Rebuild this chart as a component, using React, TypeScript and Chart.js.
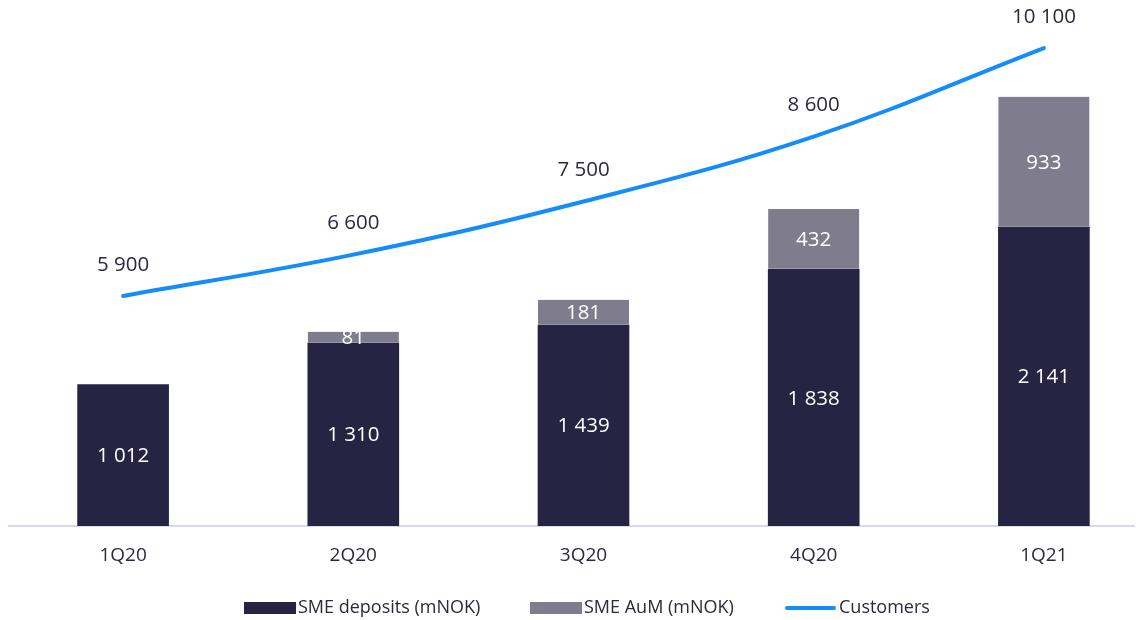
import React, { useEffect, useRef } from "react";
import { Chart, registerables } from "chart.js";

Chart.register(...registerables);

const categories = ["1Q20", "2Q20", "3Q20", "4Q20", "1Q21"];
const smeDeposits = [1012, 1310, 1439, 1838, 2141];
const smeAum = [null, 81, 181, 432, 933];
const customers = [5900, 6600, 7500, 8600, 10100];

const NAVY = "#262442";
const GREY = "#7f7c8e";
const BLUE = "#148cfa";
const TEXT = "#2a2940";
const FONT = "'Open Sans', 'Noto Sans', sans-serif";

const fmt = (v: number) => String(v).replace(/\B(?=(\d{3})+(?!\d))/g, " ");

const labelsPlugin = {
  id: "valueLabels",
  afterDatasetsDraw(chart: any) {
    const ctx = chart.ctx;
    ctx.save();
    ctx.textAlign = "center";
    ctx.textBaseline = "middle";
    chart.data.datasets.forEach((ds: any, di: number) => {
      const meta = chart.getDatasetMeta(di);
      meta.data.forEach((el: any, i: number) => {
        const v = ds.data[i];
        if (!v) return;
        if (ds.type === "line") {
          ctx.fillStyle = TEXT;
          ctx.font = `20.5px ${FONT}`;
          ctx.fillText(fmt(v), el.x, el.y - 31);
        } else {
          ctx.fillStyle = "#ffffff";
          ctx.font = `20.5px ${FONT}`;
          const cy = (el.y + el.base) / 2;
          ctx.fillText(fmt(v), el.x, cy + 1);
        }
      });
    });
    ctx.restore();
  },
};

const legendPlugin = {
  id: "customLegend",
  afterDraw(chart: any) {
    const ctx = chart.ctx;
    ctx.save();
    ctx.font = `18px ${FONT}`;
    ctx.textBaseline = "middle";
    ctx.textAlign = "left";
    const y = 600;
    const items = [
      { x: 236, label: chart.data.datasets[0].label, color: NAVY, kind: "box" },
      { x: 522, label: chart.data.datasets[1].label, color: GREY, kind: "box" },
      { x: 777, label: chart.data.datasets[2].label, color: BLUE, kind: "line" },
    ];
    items.forEach((it) => {
      if (it.kind === "box") {
        ctx.fillStyle = it.color;
        ctx.fillRect(it.x, y - 6, 52, 12);
      } else {
        ctx.strokeStyle = it.color;
        ctx.lineWidth = 4;
        ctx.lineCap = "round";
        ctx.beginPath();
        ctx.moveTo(it.x + 2, y);
        ctx.lineTo(it.x + 49, y);
        ctx.stroke();
      }
      ctx.fillStyle = TEXT;
      ctx.fillText(it.label, it.x + 54, y);
    });
    ctx.restore();
  },
};

export default function App() {
  const ref = useRef<HTMLCanvasElement | null>(null);
  useEffect(() => {
    if (!ref.current) return;
    const chart = new Chart(ref.current, {
      type: "bar",
      data: {
        labels: categories,
        datasets: [
          {
            type: "bar",
            label: "SME deposits (mNOK)",
            data: smeDeposits,
            backgroundColor: NAVY,
            borderWidth: 0,
            barThickness: 91,
            yAxisID: "y",
            stack: "s",
            order: 2,
          },
          {
            type: "bar",
            label: "SME AuM (mNOK)",
            data: smeAum,
            backgroundColor: GREY,
            borderColor: "rgba(255,255,255,0.55)",
            borderWidth: { top: 0, left: 0, right: 0, bottom: 1 },
            borderSkipped: false,
            barThickness: 91,
            yAxisID: "y",
            stack: "s",
            order: 2,
          } as any,
          {
            type: "line",
            label: "Customers",
            data: customers,
            borderColor: BLUE,
            borderWidth: 4,
            borderCapStyle: "round",
            pointRadius: 0,
            tension: 0.4,
            yAxisID: "y2",
            order: 1,
          } as any,
        ],
      },
      options: {
        animation: false,
        responsive: false,
        maintainAspectRatio: false,
        layout: { padding: 0 },
        plugins: {
          legend: { display: false },
          tooltip: { enabled: false },
        },
        scales: {
          x: {
            stacked: true,
            offset: true,
            grid: { display: false, drawTicks: false },
            border: { display: true, color: "#d9d8e6", width: 2 },
            ticks: {
              color: TEXT,
              font: { family: FONT, size: 19 },
              padding: 18,
            },
            afterFit: (axis: any) => {
              axis.height = 94;
            },
          },
          y: {
            stacked: true,
            display: false,
            min: 0,
            max: 3710,
          },
          y2: {
            display: false,
            min: 2003,
            max: 10778,
          },
        },
      },
      plugins: [labelsPlugin, legendPlugin],
    });
    return () => chart.destroy();
  }, []);

  return (
    <div style={{ width: 1135, height: 612, overflow: "hidden" }}>
      <div style={{ width: 1151, height: 612 }}>
        <canvas ref={ref} width={1151} height={612} style={{ display: "block" }} />
      </div>
    </div>
  );
}
